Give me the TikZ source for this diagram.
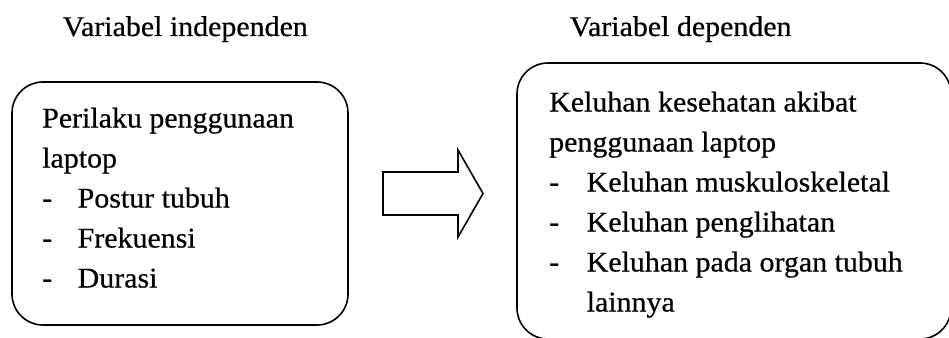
\documentclass[tikz,border=0pt]{standalone}
\usepackage{fontspec}
\setmainfont{Liberation Serif}[FakeStretch=1.05,FakeBold=0.6]
\begin{document}
\begin{tikzpicture}[x=1pt,y=-1pt,
  box/.style={draw=black, line width=1.6pt, rounded corners=31pt, inner sep=0pt},
  txt/.style={anchor=base west, inner sep=0pt, font=\fontsize{28.5}{40}\selectfont, text=black},
  blockarrow/.style={draw=black, line width=1.6pt, line join=miter},
]
\useasboundingbox (0,0) rectangle (949,337);
% titles
\node[txt] (t1) at (62.5,36) {Variabel independen};
\node[txt] (t2) at (569.5,36) {Variabel dependen};
% boxes
\node[box, minimum width=336pt, minimum height=243pt] (B1) at (180,203.5) {};
\node[box, minimum width=434pt, minimum height=276pt] (B2) at (734,201) {};
% block arrow
\coordinate (a1) at (383,172);
\coordinate (a2) at (458,172);
\coordinate (a3) at (458,150);
\coordinate (a4) at (483,193.5);
\coordinate (a5) at (458,237);
\coordinate (a6) at (458,215);
\coordinate (a7) at (383,215);
\draw[blockarrow] (a1) -- (a2) -- (a3) -- (a4) -- (a5) -- (a6) -- (a7) -- cycle;
% left box text
\node[txt] (L1) at (42,127.5) {Perilaku penggunaan};
\node[txt] (L2) at (42,167.5) {laptop};
\node[txt] (L3) at (42,207.5) {\makebox[35.5pt][l]{-}Postur tubuh};
\node[txt] (L4) at (42,247.5) {\makebox[35.5pt][l]{-}Frekuensi};
\node[txt] (L5) at (42,287.5) {\makebox[35.5pt][l]{-}Durasi};
% right box text
\node[txt] (R1) at (549,111.5) {Keluhan kesehatan akibat};
\node[txt] (R2) at (549,151.5) {penggunaan laptop};
\node[txt] (R3) at (549,191.5) {\makebox[37.5pt][l]{-}Keluhan muskuloskeletal};
\node[txt] (R4) at (549,231.5) {\makebox[37.5pt][l]{-}Keluhan penglihatan};
\node[txt] (R5) at (549,271.5) {\makebox[37.5pt][l]{-}Keluhan pada organ tubuh};
\node[txt] (R6) at (586.5,311.5) {lainnya};
\end{tikzpicture}
\end{document}
